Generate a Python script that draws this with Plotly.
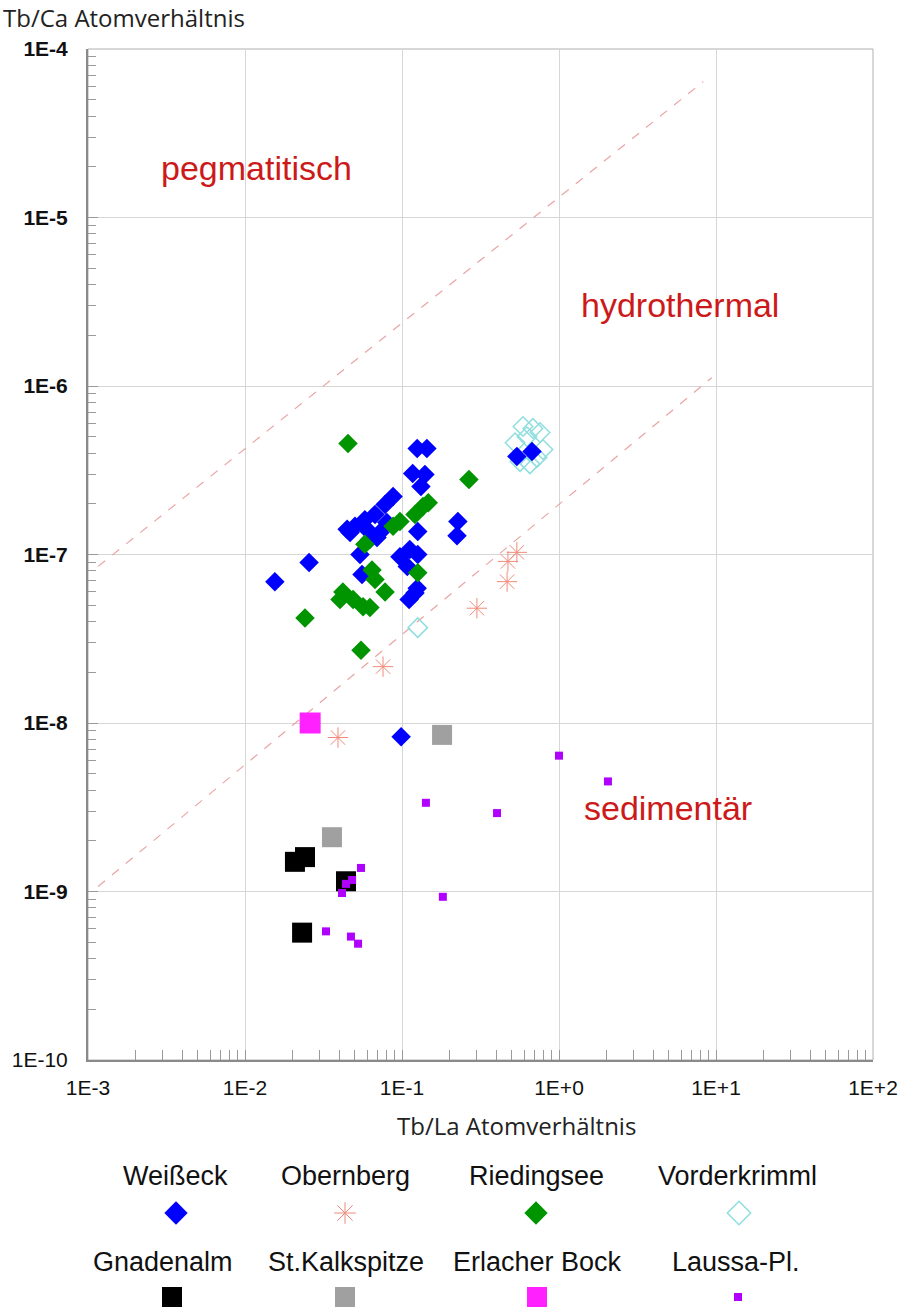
import plotly.graph_objects as go

# ---------------- data (Tb/La, Tb/Ca atomic ratios) ----------------
weisseck_x = [0.0155, 0.0256, 0.125, 0.144, 0.117, 0.140, 0.132, 0.0877, 0.078, 0.0673,
              0.058, 0.0502, 0.0467, 0.0598, 0.0724, 0.0625, 0.054, 0.126, 0.112, 0.126,
              0.097, 0.108, 0.0556, 0.121, 0.111, 0.227, 0.224, 0.539, 0.673, 0.0987,
              0.0447, 0.080, 0.0693, 0.125]
weisseck_y = [6.9e-8, 8.95e-8, 4.26e-7, 4.26e-7, 3.03e-7, 2.98e-7, 2.53e-7, 2.21e-7, 1.98e-7, 1.73e-7,
              1.61e-7, 1.47e-7, 1.35e-7, 1.41e-7, 1.35e-7, 1.23e-7, 1.0e-7, 1.37e-7, 1.07e-7, 1.0e-7,
              9.7e-8, 8.5e-8, 7.6e-8, 5.9e-8, 5.4e-8, 1.57e-7, 1.29e-7, 3.82e-7, 4.08e-7, 8.3e-9,
              1.41e-7, 1.55e-7, 1.26e-7, 6.3e-8]

obernberg_x = [0.539, 0.473, 0.467, 0.30, 0.0757, 0.0391]
obernberg_y = [1.03e-7, 9.1e-8, 6.9e-8, 4.8e-8, 2.16e-8, 8.2e-9]

riedingsee_x = [0.0453, 0.267, 0.136, 0.147, 0.121, 0.097, 0.0877, 0.058, 0.126, 0.0644,
                0.0673, 0.078, 0.042, 0.0403, 0.0488, 0.0565, 0.0625, 0.0241, 0.0548]
riedingsee_y = [4.56e-7, 2.79e-7, 1.93e-7, 2.03e-7, 1.73e-7, 1.57e-7, 1.47e-7, 1.15e-7, 7.8e-8, 8.1e-8,
                7.1e-8, 6.0e-8, 6.0e-8, 5.4e-8, 5.4e-8, 4.9e-8, 4.85e-8, 4.2e-8, 2.7e-8]

vorderkrimml_x = [0.590, 0.682, 0.757, 0.625, 0.525, 0.79, 0.724, 0.565, 0.653, 0.126]
vorderkrimml_y = [5.75e-7, 5.6e-7, 5.3e-7, 5.0e-7, 4.6e-7, 4.2e-7, 3.77e-7, 3.56e-7, 3.45e-7, 3.68e-8]

gnadenalm_x = [0.0208, 0.0241, 0.044, 0.0231]
gnadenalm_y = [1.5e-9, 1.6e-9, 1.15e-9, 5.7e-10]

kalkspitze_x = [0.18, 0.0358]
kalkspitze_y = [8.5e-9, 2.1e-9]

erlacher_x = [0.026]
erlacher_y = [1.0e-8]

laussa_x = [1.0, 2.05, 0.142, 0.403, 0.0548, 0.0481, 0.044, 0.0415, 0.182, 0.0328, 0.0473, 0.0525]
laussa_y = [6.4e-9, 4.5e-9, 3.36e-9, 2.92e-9, 1.38e-9, 1.17e-9, 1.11e-9, 9.8e-10, 9.3e-10, 5.8e-10,
            5.4e-10, 4.9e-10]

# field boundary lines (start, end)
upper_line_x = [1.16e-3, 8.3]
upper_line_y = [8.5e-8, 6.4e-5]
lower_line_x = [1.16e-3, 9.4]
lower_line_y = [1.07e-9, 1.12e-6]

x_tickvals = [1e-3, 1e-2, 1e-1, 1e0, 1e1, 1e2]
x_ticktext = ["1E-3", "1E-2", "1E-1", "1E+0", "1E+1", "1E+2"]
y_tickvals = [1e-10, 1e-9, 1e-8, 1e-7, 1e-6, 1e-5, 1e-4]
y_ticktext = ["1E-10", "<b>1E-9</b>", "<b>1E-8</b>", "<b>1E-7</b>", "<b>1E-6</b>", "<b>1E-5</b>", "<b>1E-4</b>"]

# ---------------- figure geometry ----------------
W, H = 906, 1310
PX0, PX1, PY0, PY1 = 88, 873, 49, 1060  # plot area in pixels

def px(x):
    return x / W

def py(y):
    return 1 - y / H

series = [
    # name, x, y, symbol, size, color, line width, legend symbol, legend size
    ("Vorderkrimml", vorderkrimml_x, vorderkrimml_y, "diamond-open", 15, "#8fdede", 1.5, "diamond-open", 18),
    ("Weißeck", weisseck_x, weisseck_y, "diamond", 15, "#0000ff", 0, "diamond", 18),
    ("Obernberg", obernberg_x, obernberg_y, "asterisk-open", 17, "#f08a7a", 1, "asterisk-open", 18),
    ("Riedingsee", riedingsee_x, riedingsee_y, "diamond", 15, "#009400", 0, "diamond", 18),
    ("Gnadenalm", gnadenalm_x, gnadenalm_y, "square", 20, "#000000", 0, "square", 20),
    ("St.Kalkspitze", kalkspitze_x, kalkspitze_y, "square", 20, "#a0a0a0", 0, "square", 20),
    ("Erlacher Bock", erlacher_x, erlacher_y, "square", 21, "#ff22ff", 0, "square", 20),
    ("Laussa-Pl.", laussa_x, laussa_y, "square", 8, "#b000ff", 0, "square", 8),
]

fig = go.Figure()

line_style = dict(color="#eaa4a4", width=1.2, dash="dash")
fig.add_trace(go.Scatter(x=upper_line_x, y=upper_line_y, mode="lines", line=line_style,
                         showlegend=False, hoverinfo="skip"))
fig.add_trace(go.Scatter(x=lower_line_x, y=lower_line_y, mode="lines", line=line_style,
                         showlegend=False, hoverinfo="skip"))

for name, xs, ys, sym, size, col, lw, _, _ in series:
    fig.add_trace(go.Scatter(
        x=xs, y=ys, mode="markers", name=name, showlegend=False,
        marker=dict(symbol=sym, size=size, color=col,
                    line=dict(color=col, width=lw)),
    ))

# ---------------- custom legend (text above marker, 2 rows x 4 columns) ----------------
legend_order = ["Weißeck", "Obernberg", "Riedingsee", "Vorderkrimml",
                "Gnadenalm", "St.Kalkspitze", "Erlacher Bock", "Laussa-Pl."]
legend_label_pos = [(175, 1176), (345, 1176), (536, 1176), (737, 1176),
                    (163, 1262), (346, 1262), (537, 1262), (736, 1262)]
legend_marker_pos = [(176, 1213), (345, 1213), (536, 1213), (739, 1213),
                     (172, 1297), (345, 1297), (537, 1297), (738, 1297)]
lookup = {s[0]: s for s in series}
annotations = []
for name, (lx, ly), (mx, my) in zip(legend_order, legend_label_pos, legend_marker_pos):
    s = lookup[name]
    fig.add_trace(go.Scatter(
        x=[mx], y=[my], xaxis="x2", yaxis="y2", mode="markers", showlegend=False,
        hoverinfo="skip", cliponaxis=False,
        marker=dict(symbol=s[7], size=s[8], color=s[5], line=dict(color=s[5], width=s[6] if s[6] else 0)),
    ))
    annotations.append(dict(x=px(lx), y=py(ly), xref="paper", yref="paper", text=name,
                            showarrow=False, xanchor="center", yanchor="middle",
                            font=dict(family="Liberation Sans, Arial", size=27, color="#111111")))

# field labels
field_col = "#cc1a1a"
for txt, (tx, ty) in [("pegmatitisch", (256, 168)), ("hydrothermal", (680, 305)), ("sedimentär", (668, 808))]:
    annotations.append(dict(x=px(tx), y=py(ty), xref="paper", yref="paper", text=txt,
                            showarrow=False, xanchor="center", yanchor="middle",
                            font=dict(family="Liberation Sans, Arial", size=34, color=field_col)))

# axis titles
annotations.append(dict(x=px(1), y=py(18), xref="paper", yref="paper", text="Tb/Ca Atomverhältnis",
                        showarrow=False, xanchor="left", yanchor="middle",
                        font=dict(family="Open Sans, Liberation Sans", size=24, color="#222222")))
annotations.append(dict(x=px(516), y=py(1125), xref="paper", yref="paper", text="Tb/La Atomverhältnis",
                        showarrow=False, xanchor="center", yanchor="middle",
                        font=dict(family="Open Sans, Liberation Sans", size=24, color="#222222")))

minor_x = [m * 10.0 ** e for e in range(-3, 2) for m in range(2, 10)]
minor_y = [m * 10.0 ** e for e in range(-10, -4) for m in range(2, 10)]

fig.update_layout(
    width=W, height=H,
    margin=dict(l=0, r=0, t=0, b=0, pad=0, autoexpand=False),
    paper_bgcolor="white",
    plot_bgcolor="rgba(0,0,0,0)",
    showlegend=False,
    annotations=annotations,
    xaxis=dict(
        type="log", range=[-3, 2], domain=[PX0 / W, PX1 / W], anchor="y",
        tickmode="array", tickvals=x_tickvals, ticktext=x_ticktext,
        ticks="inside", ticklen=10, tickcolor="#999999",
        showgrid=True, gridcolor="#d6d6d6", gridwidth=1,
        showline=True, linecolor="#8a8a8a", linewidth=2,
        zeroline=False, ticklabelstandoff=8, automargin=False,
        tickfont=dict(family="Liberation Sans, Arial", size=21, color="#111111"),
        minor=dict(tickmode="array", tickvals=minor_x, ticks="inside", ticklen=10,
                   tickcolor="#9a9a9a", showgrid=False),
    ),
    yaxis=dict(
        type="log", range=[-10, -4], domain=[1 - PY1 / H, 1 - PY0 / H], anchor="x",
        tickmode="array", tickvals=y_tickvals, ticktext=y_ticktext,
        ticks="inside", ticklen=10, tickcolor="#999999",
        showgrid=True, gridcolor="#d6d6d6", gridwidth=1,
        showline=True, linecolor="#8a8a8a", linewidth=2,
        zeroline=False, ticklabelstandoff=14, automargin=False,
        tickfont=dict(family="Liberation Sans, Arial", size=21, color="#111111"),
        minor=dict(tickmode="array", tickvals=minor_y, ticks="inside", ticklen=8,
                   tickcolor="#9a9a9a", showgrid=False),
    ),
    xaxis2=dict(domain=[0, 1], range=[0, W], anchor="y2", visible=False, fixedrange=True,
                automargin=False),
    yaxis2=dict(domain=[0, 1], range=[H, 0], anchor="x2", visible=False, fixedrange=True,
                automargin=False),
    shapes=[dict(type="rect", xref="x domain", yref="y domain", x0=0, x1=1, y0=0, y1=1,
                 line=dict(color="#b0b0b0", width=1), layer="below")],
)

fig.write_html("out.html")
